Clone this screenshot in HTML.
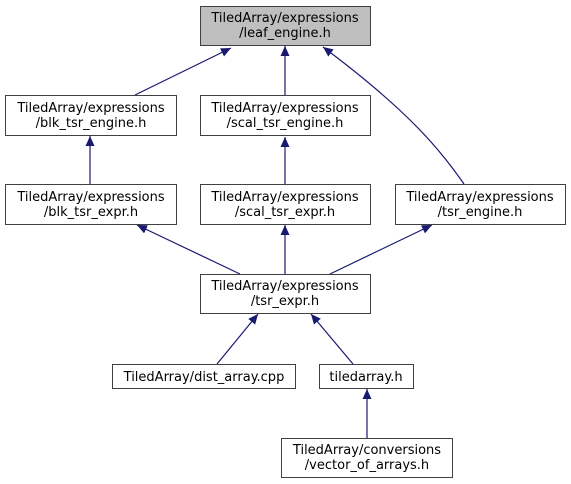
<!DOCTYPE html>
<html><head><meta charset="utf-8"><style>
html,body{margin:0;padding:0;background:#fff;}
svg{display:block}
text{font-family:"DejaVu Sans","Liberation Sans",sans-serif;font-size:13px;fill:#000}
</style></head><body>
<svg width="571" height="484" viewBox="0 0 571 484" xmlns="http://www.w3.org/2000/svg">
<defs><marker id="a" markerWidth="10" markerHeight="9" refX="10" refY="4.5" orient="auto" markerUnits="userSpaceOnUse"><path d="M0,0 L10,4.5 L0,9 z" fill="#191970"/></marker></defs>
<g stroke="#191970" stroke-width="1.2" fill="none" marker-end="url(#a)">
<path d="M135,95 L231,48"/>
<path d="M285,95 L285,46"/>
<path d="M464,184 C440,150 410,112 323,47"/>
<path d="M90,184 L90,136"/>
<path d="M285,184 L285,137"/>
<path d="M240,274 L137,225"/>
<path d="M285,274 L285,225"/>
<path d="M330,274 L432,225"/>
<path d="M217,364 L258,314"/>
<path d="M353,364 L311,314"/>
<path d="M367,438 L367,389"/>
</g>
<g stroke="#404040" stroke-width="1" fill="#fff">
<rect x="200.5" y="6.5" width="170" height="39" fill="#bfbfbf"/>
<rect x="5.5" y="95.5" width="171" height="40"/>
<rect x="200.5" y="95.5" width="170" height="40"/>
<rect x="5.5" y="184.5" width="171" height="40"/>
<rect x="200.5" y="184.5" width="170" height="40"/>
<rect x="395.5" y="184.5" width="170" height="40"/>
<rect x="200.5" y="274.5" width="170" height="39"/>
<rect x="112.5" y="364.5" width="183" height="24"/>
<rect x="319.5" y="364.5" width="94" height="24"/>
<rect x="281.5" y="438.5" width="171" height="39"/>
</g>
<g text-anchor="middle">
<text x="285" y="22">TiledArray/expressions</text><text x="285" y="37">/leaf_engine.h</text>
<text x="91" y="112">TiledArray/expressions</text><text x="91" y="127">/blk_tsr_engine.h</text>
<text x="285" y="112">TiledArray/expressions</text><text x="285" y="127">/scal_tsr_engine.h</text>
<text x="91" y="201">TiledArray/expressions</text><text x="91" y="216">/blk_tsr_expr.h</text>
<text x="285" y="201">TiledArray/expressions</text><text x="285" y="216">/scal_tsr_expr.h</text>
<text x="480" y="201">TiledArray/expressions</text><text x="480" y="216">/tsr_engine.h</text>
<text x="285" y="290">TiledArray/expressions</text><text x="285" y="305">/tsr_expr.h</text>
<text x="204" y="381">TiledArray/dist_array.cpp</text>
<text x="366" y="381">tiledarray.h</text>
<text x="367" y="454">TiledArray/conversions</text><text x="367" y="469">/vector_of_arrays.h</text>
</g>
</svg>
</body></html>
